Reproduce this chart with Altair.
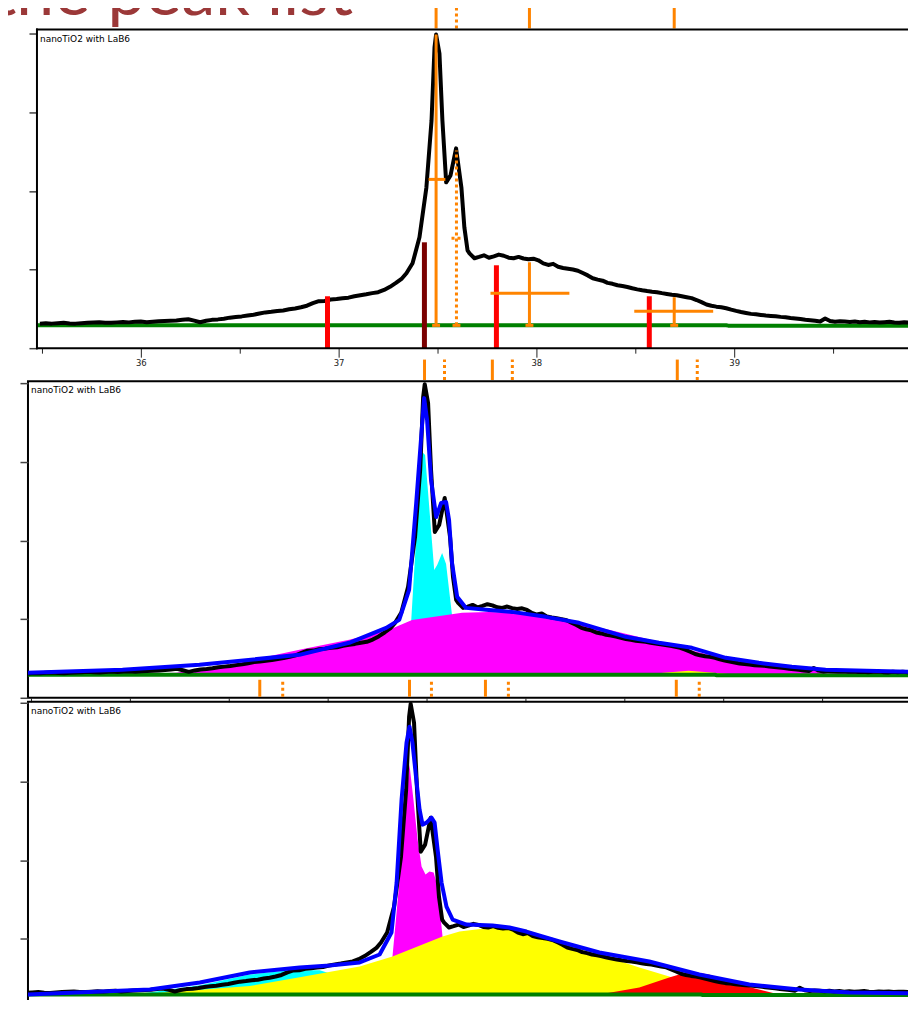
import altair as alt
import pandas as pd

TITLE = "the peak list"
LABEL = "nanoTiO2 with LaB6"

# ---------------- measured pattern (2-theta, counts) ----------------
tth = [35.40, 35.43, 35.46, 35.49, 35.52, 35.55, 35.58, 35.61, 35.64, 35.67,
       35.70, 35.73, 35.76, 35.79, 35.82, 35.85, 35.88, 35.91, 35.94, 35.97,
       36.00, 36.03, 36.06, 36.09, 36.12, 36.15, 36.18, 36.21, 36.24, 36.27,
       36.30, 36.33, 36.36, 36.39, 36.42, 36.45, 36.48, 36.51, 36.54, 36.57,
       36.60, 36.63, 36.66, 36.69, 36.72, 36.75, 36.78, 36.81, 36.84, 36.87,
       36.90, 36.93, 36.96, 36.99, 37.02, 37.05, 37.08, 37.11, 37.14, 37.17,
       37.20, 37.23, 37.26, 37.29, 37.32, 37.343, 37.374, 37.409, 37.444, 37.47,
       37.485, 37.493, 37.51, 37.525, 37.544, 37.566, 37.594, 37.621, 37.636, 37.652,
       37.662, 37.687, 37.71, 37.735, 37.76, 37.785, 37.81, 37.835, 37.86, 37.885,
       37.91, 37.935, 37.96, 37.985, 38.01, 38.035, 38.06, 38.085, 38.11, 38.135,
       38.16, 38.185, 38.21, 38.235, 38.26, 38.285, 38.31, 38.335, 38.36, 38.385,
       38.41, 38.435, 38.46, 38.485, 38.51, 38.535, 38.56, 38.585, 38.61, 38.635,
       38.66, 38.685, 38.71, 38.735, 38.76, 38.785, 38.81, 38.835, 38.86, 38.885,
       38.91, 38.935, 38.96, 38.985, 39.01, 39.035, 39.06, 39.085, 39.11, 39.135,
       39.16, 39.185, 39.21, 39.235, 39.26, 39.285, 39.31, 39.335, 39.36, 39.385,
       39.41, 39.435, 39.46, 39.485, 39.51, 39.535, 39.56, 39.585, 39.61, 39.635,
       39.66, 39.685, 39.71, 39.735, 39.76, 39.785, 39.81, 39.835, 39.86, 39.885,
       39.91, 39.935, 39.96, 39.985, 40.01, 40.05, 40.10, 40.15]
cnt = [300, 303, 306, 310, 316, 312, 318, 322, 314, 312,
       318, 322, 326, 330, 324, 322, 328, 333, 328, 335,
       338, 331, 336, 342, 345, 348, 352, 360, 368, 350,
       330, 348, 360, 366, 375, 388, 396, 404, 415, 425,
       440, 455, 462, 472, 480, 494, 505, 520, 540, 572,
       598, 600, 618, 625, 635, 642, 660, 673, 685, 700,
       712, 740, 780, 830, 885, 952, 1079, 1410, 2044, 2895,
       3822, 3987, 3746, 2895, 2108, 2197, 2540, 2044, 1536, 1244,
       1206, 1143, 1160, 1181, 1150, 1168, 1190, 1175, 1150, 1143,
       1160, 1140, 1130, 1138, 1117, 1078, 1058, 1072, 1035, 1020,
       1010, 1000, 985, 955, 925, 889, 872, 858, 830, 818,
       800, 790, 778, 762, 748, 736, 726, 718, 712, 700,
       690, 680, 672, 660, 648, 636, 612, 585, 556, 540,
       528, 520, 508, 490, 474, 460, 448, 436, 430, 422,
       415, 410, 406, 398, 392, 384, 378, 370, 362, 356,
       348, 340, 378, 345, 335, 342, 338, 333, 338, 330,
       335, 328, 332, 326, 330, 335, 326, 322, 330, 326,
       330, 324, 328, 325, 322, 326, 321, 320]

# background
bg_tth = [35.40, 35.475, 38.96, 38.97, 40.15]
bg_cnt = [292, 292, 292, 286, 286]

# ---------------- panel 1 : peak list ----------------
ref_red_pos = [36.944, 37.798, 38.571]
ref_red_h = [660, 1054, 660]
ref_dark_pos = [37.434]
ref_dark_h = [1346]

pk_pos = [37.493, 37.965, 38.697]
pk_top = [3987, 1092, 648]
pk_bar_y = [2146, 698, 470]
pk_bar_lo = [37.455, 37.768, 38.495]
pk_bar_hi = [37.540, 38.167, 38.894]

pk2_pos = [37.596]
pk2_top = [2514]
pk2_bar_y = [1397]
pk2_bar_lo = [37.571]
pk2_bar_hi = [37.621]

m1_solid = [37.493, 37.965, 38.697]
m1_dot = [37.596]

# ---------------- panel 2 : two-peak fit ----------------
m2_solid = [37.492, 37.835, 38.770]
m2_dot = [37.593, 37.936, 38.871]

c2_tth = [37.389, 37.424, 37.455, 37.480, 37.495, 37.515, 37.541, 37.556, 37.581, 37.601, 37.631, 37.657]
c2_cnt = [290, 952, 2261, 3124, 3086, 2450, 1626, 1689, 1841, 1700, 1054, 290]
mg2_tth = [35.60, 35.849, 36.238, 36.556, 36.859, 37.111, 37.313, 37.429, 37.682, 37.818, 37.934,
           38.071, 38.172, 38.258, 38.424, 38.677, 38.929, 39.182, 39.434, 39.687, 39.970, 40.15]
mg2_cnt = [290, 292, 318, 445, 610, 737, 864, 990, 1080, 1092, 1080,
           1054, 1003, 953, 864, 711, 546, 445, 368, 330, 318, 315]
y2_tth = [38.576, 38.702, 38.828, 38.955, 39.081]
y2_cnt = [290, 318, 345, 318, 290]
fit2_tth = [35.40, 35.485, 35.965, 36.354, 36.859, 37.111, 37.298, 37.364, 37.414, 37.45,
            37.475, 37.49, 37.505, 37.525, 37.551, 37.576, 37.601, 37.616, 37.631, 37.657,
            37.702, 37.803, 37.934, 38.106, 38.273, 38.51, 38.677, 38.844, 39.015, 39.182,
            39.349, 39.52, 39.97, 40.15]
fit2_cnt = [318, 318, 356, 419, 546, 699, 889, 991, 1372, 2477,
            3315, 3810, 3531, 2769, 2299, 2477, 2489, 2261, 1715, 1283,
            1143, 1118, 1092, 1029, 953, 775, 699, 635, 508, 445,
            394, 356, 330, 325]

# ---------------- panel 3 : four-peak fit ----------------
m3_solid = [36.730, 37.487, 37.871, 38.836]
m3_dot = [36.846, 37.598, 37.987, 38.952]

c3_tth = [36.10, 36.427, 36.679, 36.881, 37.033, 37.159, 37.285]
c3_cnt = [292, 410, 545, 600, 600, 500, 292]
mg3_tth = [37.376, 37.401, 37.437, 37.462, 37.487, 37.507, 37.528, 37.548, 37.568, 37.588, 37.609, 37.629, 37.654, 37.674]
mg3_cnt = [292, 775, 1753, 2642, 3213, 2769, 2261, 1918, 1816, 1854, 1842, 1664, 1029, 292]
y3_tth = [35.922, 36.174, 36.679, 36.932, 37.235, 37.401, 37.654, 37.740, 37.907, 38.078,
          38.245, 38.447, 38.649, 38.851, 39.053, 39.255]
y3_cnt = [292, 305, 400, 510, 648, 775, 1029, 1092, 1143, 1118,
          965, 800, 635, 483, 356, 292]
r3_tth = [38.447, 38.649, 38.800, 38.901, 39.002, 39.154, 39.356]
r3_cnt = [292, 381, 508, 584, 546, 419, 292]
fit3_tth = [35.40, 35.558, 36.174, 36.427, 36.679, 36.932, 37.083, 37.235, 37.336, 37.396,
            37.422, 37.447, 37.472, 37.487, 37.502, 37.523, 37.538, 37.553, 37.573, 37.598,
            37.614, 37.629, 37.649, 37.674, 37.705, 37.775, 37.907, 37.992, 38.078, 38.159,
            38.245, 38.447, 38.699, 38.952, 39.205, 39.457, 39.71, 40.043, 40.15]
fit3_cnt = [292, 292, 356, 445, 572, 635, 660, 699, 800, 1080,
            1715, 2769, 3493, 3696, 3493, 2985, 2642, 2451, 2477, 2540,
            2477, 2134, 1715, 1410, 1245, 1181, 1168, 1143, 1092, 1029,
            965, 826, 711, 546, 419, 356, 318, 305, 300]

BASE = 290
PX_PER_DEG = 198.0
CNT_PER_PX = 12.7
INSET1 = 9          # panel 1 frame sits 9 px right of the other panels
P1_XMIN = 35.475    # first 2-theta shown inside panel 1 frame

P1 = dict(start=P1_XMIN - INSET1 / PX_PER_DEG, width=900, height=319, mk=(4065, 4330))
P2 = dict(start=35.487, width=900, height=317, mk=(4040, 4300))
P3 = dict(start=35.558, width=900, height=316, mk=(4077, 4293))

ORANGE = "#ff8400"
LBLFONT = "DejaVu Sans"


def xsc(p):
    return alt.Scale(domain=[p["start"], p["start"] + p["width"] / PX_PER_DEG], nice=False, zero=False)


def ysc(p):
    return alt.Scale(domain=[0, p["height"] * CNT_PER_PX], nice=False, zero=False)


def make_yaxis(offset=0):
    return alt.Axis(values=[0, 1000, 2000, 3000, 4000], labels=False, tickSize=8,
                    tickColor="#444", tickWidth=1.5, domain=False, grid=False, title="",
                    offset=offset)


xaxis1 = alt.Axis(values=[35.5 + 0.5 * i for i in range(10)],
                  labelExpr="datum.value % 1 === 0 ? format(datum.value, 'd') : ''",
                  tickSize={"condition": {"test": "datum.value % 1 === 0", "value": 9}, "value": 5},
                  tickColor="#222", tickWidth=1, labelFontSize=8.5, labelFont=LBLFONT,
                  labelColor="#222", labelPadding=1, domain=False, grid=False, title="")
xaxis2 = alt.Axis(values=[35.5 + 0.5 * i for i in range(10)], labels=False, tickSize=4,
                  tickColor="#222", domain=False, grid=False, title="")
xaxis3 = alt.Axis(labels=False, ticks=False, domain=False, grid=False, title="")


class Ctx:
    def __init__(self, p, xax, yax, xmin=None):
        self.p, self.xax, self.yax, self.xmin = p, xax, yax, xmin

    def X(self, field="x"):
        return alt.X(f"{field}:Q", scale=xsc(self.p), axis=self.xax, title="")

    def Y(self, field="y"):
        return alt.Y(f"{field}:Q", scale=ysc(self.p), axis=self.yax, title="")

    def line(self, xs, ys, color, width):
        df = pd.DataFrame({"x": xs, "y": ys})
        if self.xmin is not None:
            df = df[df.x >= self.xmin]
        return alt.Chart(df).mark_line(color=color, strokeWidth=width, clip=True,
                                       strokeJoin="round").encode(x=self.X(), y=self.Y())

    def area(self, xs, ys, color):
        df = pd.DataFrame({"x": xs, "y": ys, "b": [BASE] * len(xs)})
        return alt.Chart(df).mark_area(color=color, clip=True).encode(
            x=self.X(), y=self.Y(), y2="b:Q")

    def vrule(self, xs, y0, y1, color, width, dash=None):
        df = pd.DataFrame({"x": xs, "y": y0, "y2": y1})
        kw = dict(color=color, strokeWidth=width)
        if dash:
            kw["strokeDash"] = dash
        return alt.Chart(df).mark_rule(**kw).encode(x=self.X(), y=self.Y(), y2="y2:Q")

    def hrule(self, lo, hi, ys, color, width, dash=None):
        df = pd.DataFrame({"x": lo, "x2": hi, "y": ys})
        kw = dict(color=color, strokeWidth=width)
        if dash:
            kw["strokeDash"] = dash
        return alt.Chart(df).mark_rule(**kw).encode(x=self.X(), x2="x2:Q", y=self.Y())

    def markers(self, solid, dotted):
        lo, hi = self.p["mk"]
        return [
            self.vrule(solid, [lo] * len(solid), [hi] * len(solid), ORANGE, 3),
            self.vrule(dotted, [lo] * len(dotted), [hi] * len(dotted), ORANGE, 3, [3, 3]),
        ]


def label_layer(dx=3):
    return alt.Chart(pd.DataFrame({"t": [LABEL]})).mark_text(
        align="left", baseline="alphabetic", fontSize=9, font=LBLFONT, color="black"
    ).encode(text="t:N", x=alt.value(dx), y=alt.value(12))


one = pd.DataFrame({"a": [0]})
frame = alt.ViewBackground(stroke="black", strokeWidth=2)
noframe = alt.ViewBackground(strokeOpacity=0)

# ---------------- panel 1 ----------------
c = Ctx(P1, xaxis1, make_yaxis(-INSET1), xmin=P1_XMIN)
W1, H1 = P1["width"], P1["height"]
frame_rules = [
    alt.Chart(one).mark_rule(color="black", strokeWidth=2, strokeCap="square").encode(
        x=alt.value(INSET1), y=alt.value(0), y2=alt.value(H1)),
    alt.Chart(one).mark_rule(color="black", strokeWidth=2, strokeCap="square").encode(
        x=alt.value(INSET1), x2=alt.value(W1), y=alt.value(0)),
    alt.Chart(one).mark_rule(color="black", strokeWidth=2, strokeCap="square").encode(
        x=alt.value(INSET1), x2=alt.value(W1), y=alt.value(H1)),
]
layers1 = [
    c.line(bg_tth, bg_cnt, "#008000", 4),
    c.line(tth, cnt, "black", 4),
    c.vrule(ref_red_pos, [0] * 3, ref_red_h, "#ff0000", 5),
    c.vrule(ref_dark_pos, [0], ref_dark_h, "#7a0000", 5),
    c.vrule(pk_pos, [BASE] * 3, pk_top, ORANGE, 3),
    c.hrule(pk_bar_lo, pk_bar_hi, pk_bar_y, ORANGE, 3),
    c.hrule([v - 0.02 for v in pk_pos], [v + 0.02 for v in pk_pos], [BASE] * 3, ORANGE, 3),
    c.vrule(pk2_pos, [BASE], pk2_top, ORANGE, 3, [3, 3]),
    c.hrule(pk2_bar_lo, pk2_bar_hi, pk2_bar_y, ORANGE, 3, [3, 3]),
    c.hrule([v - 0.02 for v in pk2_pos], [v + 0.02 for v in pk2_pos], [BASE], ORANGE, 3),
] + c.markers(m1_solid, m1_dot) + frame_rules + [
    label_layer(INSET1 + 3),
    alt.Chart(pd.DataFrame({"t": [TITLE]})).mark_text(
        align="left", baseline="alphabetic", fontSize=68, font="Lato", color="#9b3838"
    ).encode(text="t:N", x=alt.value(-36), y=alt.value(-15)),
    # invisible anchor fixing the page origin
    alt.Chart(one).mark_rule(opacity=0).encode(
        x=alt.value(-300), y=alt.value(-300), y2=alt.value(-299)),
]
panel1 = alt.layer(*layers1).properties(width=W1, height=H1, view=noframe)

# ---------------- panel 2 ----------------
c = Ctx(P2, xaxis2, make_yaxis())
layers2 = [
    c.area(c2_tth, c2_cnt, "#00ffff"),
    c.area(mg2_tth, mg2_cnt, "#ff00ff"),
    c.area(y2_tth, y2_cnt, "#ffff00"),
    c.line(bg_tth, bg_cnt, "#008000", 4),
    c.line(tth, cnt, "black", 4),
    c.line(fit2_tth, fit2_cnt, "#0000ff", 4),
] + c.markers(m2_solid, m2_dot) + [label_layer()]
panel2 = alt.layer(*layers2).properties(width=P2["width"], height=P2["height"], view=frame)

# ---------------- panel 3 ----------------
c = Ctx(P3, xaxis3, make_yaxis())
layers3 = [
    c.area(c3_tth, c3_cnt, "#00ffff"),
    c.area(mg3_tth, mg3_cnt, "#ff00ff"),
    c.area(y3_tth, y3_cnt, "#ffff00"),
    c.area(r3_tth, r3_cnt, "#ff0000"),
    c.line(bg_tth, bg_cnt, "#008000", 4),
    c.line(tth, cnt, "black", 4),
    c.line(fit3_tth, fit3_cnt, "#0000ff", 4),
] + c.markers(m3_solid, m3_dot) + [label_layer()]
panel3 = alt.layer(*layers3).properties(width=P3["width"], height=P3["height"], view=frame)

spacer = alt.Chart(one).mark_point(opacity=0).encode(
    x=alt.X("a:Q", axis=None), y=alt.Y("a:Q", axis=None)).properties(width=1, height=25, view=noframe)

chart = alt.vconcat(panel1, spacer, panel2, panel3, spacing=4, bounds="flush").properties(
    padding={"left": -280, "top": -279, "right": -21, "bottom": -20},
    background="white",
).configure_view(strokeWidth=0).configure_axis(grid=False)

chart.save("out.html", embed_options={"renderer": "svg", "actions": False})
